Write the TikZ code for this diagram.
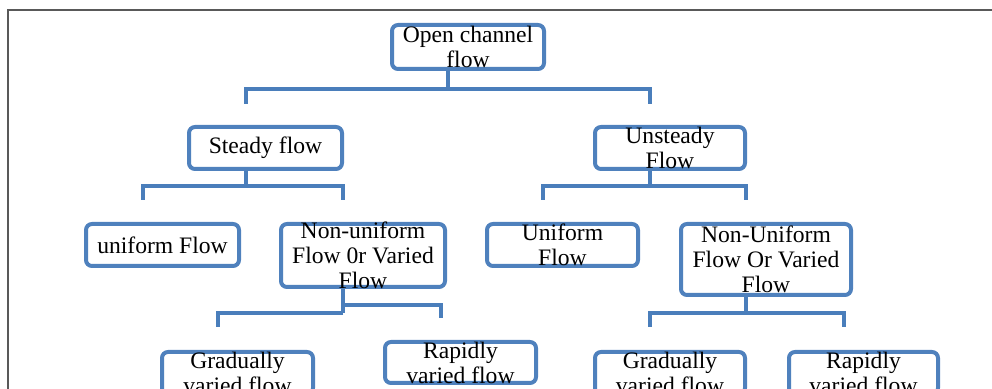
\documentclass[tikz,border=0pt]{standalone}
\usepackage{fontspec}
\setmainfont{Liberation Serif}
\usetikzlibrary{positioning,calc}
\definecolor{boxblue}{HTML}{4F81BD}
\definecolor{wireblue}{HTML}{4A7EBB}

\begin{document}
\begin{tikzpicture}[
    x=0.5pt, y=-0.5pt,
    box/.style={draw=boxblue, line width=2pt, rounded corners=3pt, fill=white, inner sep=0pt},
    txt/.style={align=center, inner sep=0pt, font=\fontsize{11.8pt}{12.5pt}\selectfont},
    wire/.style={draw=wireblue, line width=2pt}
  ]
  \useasboundingbox (0,0) rectangle (992,389);
  \clip (0,0) rectangle (992,389);
  \draw[gray!70!black, line width=0.75pt] (8,400) -- (8,10) -- (1000,10);

  % boxes
  \node[box, minimum width=76pt, minimum height=22pt, label={[txt]center:Open channel\\flow}] (open) at (468,47) {};
  \node[box, minimum width=76.5pt, minimum height=21pt, label={[txt]center:Steady flow}] (steady) at (265.5,148) {};
  \node[box, minimum width=75pt, minimum height=21pt, label={[txt]center:Unsteady\\Flow}] (unsteady) at (670,148) {};
  \node[box, minimum width=76.5pt, minimum height=21pt, label={[txt]center:uniform Flow}] (unifL) at (162.5,245) {};
  \node[box, minimum width=82pt, minimum height=31.5pt, label={[txt]center:Non-uniform\\Flow 0r Varied\\Flow}] (nonunifL) at (363,255.5) {};
  \node[box, minimum width=75.5pt, minimum height=21pt, label={[txt]center:Uniform\\Flow}] (unifR) at (562.5,245) {};
  \node[box, minimum width=85pt, minimum height=35.5pt, label={[txt]center:Non-Uniform\\Flow Or Varied\\Flow}] (nonunifR) at (766,259.5) {};
  \node[box, minimum width=75.5pt, minimum height=21pt, label={[txt]center:Gradually\\varied flow}] (gradL) at (237.5,373) {};
  \node[box, minimum width=75.5pt, minimum height=20.5pt, label={[txt]center:Rapidly\\varied flow}] (rapidL) at (460.5,362.5) {};
  \node[box, minimum width=75pt, minimum height=21pt, label={[txt]center:Gradually\\varied flow}] (gradR) at (670,373) {};
  \node[box, minimum width=74.5pt, minimum height=21pt, label={[txt]center:Rapidly\\varied flow}] (rapidR) at (863.5,373) {};

  % connectors
  \draw[wire] ([xshift=-10pt]open.south) -- ++(0,18) coordinate (openbar);
  \draw[wire] ([xshift=-10pt,yshift=10.5pt]steady.north) |- (openbar) -| ([xshift=-10pt,yshift=10.5pt]unsteady.north);

  \draw[wire] ([xshift=-10pt]steady.south) -- ++(0,15) coordinate (steadybar);
  \draw[wire] ([xshift=-10pt,yshift=11pt]unifL.north) |- (steadybar) -| ([xshift=-10pt,yshift=11pt]nonunifL.north);

  \draw[wire] ([xshift=-10pt]unsteady.south) -- ++(0,15) coordinate (unsteadybar);
  \draw[wire] ([xshift=-10pt,yshift=11pt]unifR.north) |- (unsteadybar) -| ([xshift=-10pt,yshift=11pt]nonunifR.north);

  \draw[wire] ([xshift=-10pt]nonunifL.south) -- ++(0,16) coordinate (nlbar1) -- ++(0,8) coordinate (nlbar2);
  \draw[wire] (nlbar2) -| ([xshift=-10pt,yshift=11.5pt]gradL.north);
  \draw[wire] (nlbar1) -| ([xshift=-10pt,yshift=11pt]rapidL.north);

  \draw[wire] ([xshift=-10pt]nonunifR.south) -- ++(0,16) coordinate (nrbar);
  \draw[wire] ([xshift=-10pt,yshift=11.5pt]gradR.north) |- (nrbar) -| ([xshift=-10pt,yshift=11.5pt]rapidR.north);
\end{tikzpicture}
\end{document}
